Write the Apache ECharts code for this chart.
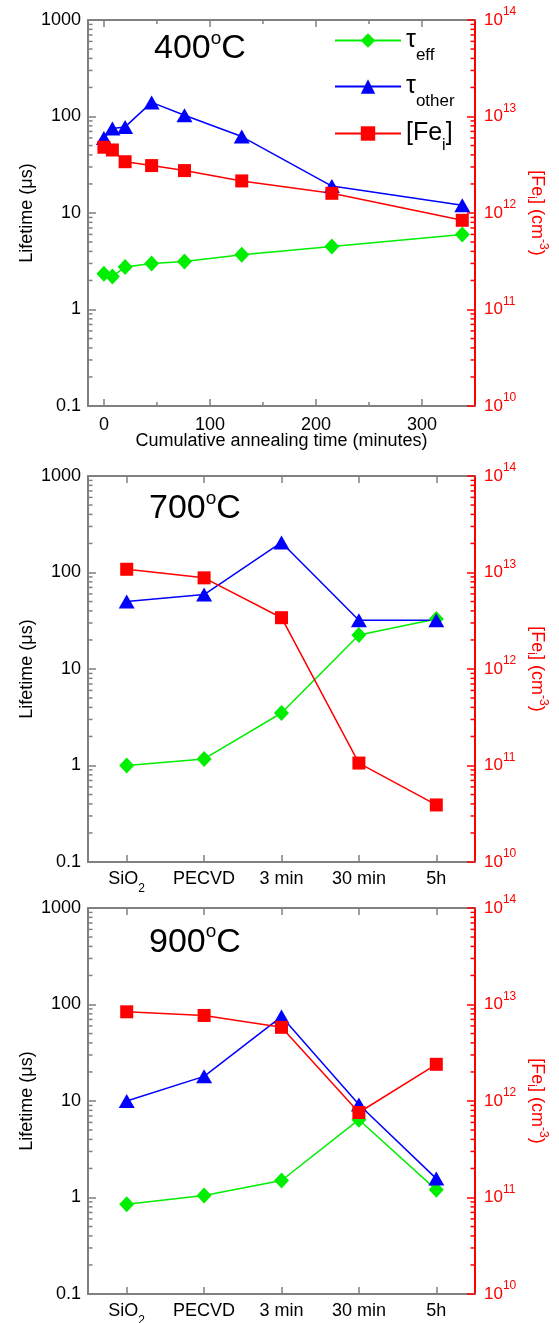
<!DOCTYPE html>
<html>
<head>
<meta charset="utf-8">
<script src="https://cdn.jsdelivr.net/npm/echarts@6/dist/echarts.min.js"></script>
<style>
html,body{margin:0;padding:0;background:#fff}
#chart{width:559px;height:1323px}
</style>
</head>
<body>
<div id="chart"></div>
<script>
/****
 * 400C: cumulative annealing time (minutes)
 */
var time400 = [0, 8, 20, 45, 76, 130, 215, 338];
var eff400 = [2.35, 2.2, 2.75, 3.0, 3.15, 3.7, 4.5, 6.0];
var other400 = [60, 75, 78, 140, 103, 62, 19, 12];
var fe400 = [4.8e12, 4.5e12, 3.4e12, 3.1e12, 2.75e12, 2.15e12, 1.6e12, 8.4e11];

/****
 * 700C / 900C: process steps
 */
var steps = ['SiO2', 'PECVD', '3 min', '30 min', '5h'];
var eff700 = [1.0, 1.17, 3.5, 22.5, 33];
var other700 = [50, 59, 205, 32, 32];
var fe700 = [1.08e13, 8.8e12, 3.4e12, 1.06e11, 3.9e10];
var eff900 = [0.85, 1.05, 1.5, 6.4, 1.2];
var other900 = [10, 18, 75, 9.2, 1.57];
var fe900 = [8.4e12, 7.7e12, 5.8e12, 7.6e11, 2.4e12];

var temps = ['400', '700', '900'];
var timeTicks = [0, 100, 200, 300];
var timeMinor = [50, 150, 250];
var minorMult = [2, 3, 4, 5, 6, 7, 8, 9];

var FONT = '"Liberation Sans", Arial, sans-serif';
var GRAY = '#808080';
var RED = '#ff0000';
var GREEN = '#00ee00';
var BLUE = '#0000ff';
var L = 88, W = 387, H = 386;
var tops = [20, 476, 908];
var titleTop = [9, 13, 14.5];
var titleLeft = [154, 149, 149];

var chart = echarts.init(document.getElementById('chart'));

function leftAxis(gi){
	return {
		type: 'log', logBase: 10, min: 0.1, max: 1000, gridIndex: gi, position: 'left',
		axisLine: {show: true, onZero: false, lineStyle: {color: GRAY, width: 2}},
		axisTick: {show: true, inside: true, length: 8, lineStyle: {color: GRAY, width: 1.5}},
		splitLine: {show: false},
		axisLabel: {color: '#000', fontSize: 18, fontFamily: FONT, margin: 7,
			formatter: function(v){ return String(+v.toPrecision(3)); }},
		name: 'Lifetime (\u03bcs)', nameLocation: 'middle', nameRotate: 90, nameGap: 52,
		nameMoveOverlap: false,
		nameTextStyle: {color: '#000', fontSize: 18, fontFamily: FONT}
	};
}

function rightAxis(gi){
	return {
		type: 'log', logBase: 10, min: 1e10, max: 1e14, gridIndex: gi, position: 'right',
		axisLine: {show: true, onZero: false, lineStyle: {color: RED, width: 2}},
		axisTick: {show: true, inside: true, length: 8, lineStyle: {color: RED, width: 1.5}},
		splitLine: {show: false},
		axisLabel: {fontFamily: FONT, margin: 9,
			formatter: function(v){ return '{b|10}{s|' + Math.round(Math.log(v) / Math.LN10) + '}'; },
			rich: {
				b: {color: RED, fontSize: 17, lineHeight: 28, fontFamily: FONT},
				s: {color: RED, fontSize: 12, lineHeight: 12, verticalAlign: 'top', fontFamily: FONT}
			}},
		name: '{m|[Fe}{d|i}{m|] (cm}{u|-3}{m|)}', nameLocation: 'middle', nameRotate: -90, nameGap: 50,
		nameMoveOverlap: false,
		nameTextStyle: {rich: {
			m: {color: RED, fontSize: 18, lineHeight: 24, fontFamily: FONT},
			d: {color: RED, fontSize: 12, lineHeight: 12, verticalAlign: 'bottom', fontFamily: FONT},
			u: {color: RED, fontSize: 12, lineHeight: 12, verticalAlign: 'top', fontFamily: FONT}
		}}
	};
}

function stepAxis(gi, pos){
	return {
		type: 'category', data: steps, gridIndex: gi, position: pos, boundaryGap: true,
		axisLine: {show: true, onZero: false, lineStyle: {color: GRAY, width: 2}},
		axisTick: {show: true, inside: true, alignWithLabel: true, length: 7, lineStyle: {color: GRAY, width: 1.5}},
		splitLine: {show: false},
		axisLabel: {show: pos === 'bottom', margin: 1, interval: 0,
			formatter: function(v){ return v === 'SiO2' ? '{m|SiO}{d|2}' : '{m|' + v + '}'; },
			rich: {
				m: {color: '#000', fontSize: 18, lineHeight: 32, fontFamily: FONT},
				d: {color: '#000', fontSize: 12, lineHeight: 12, verticalAlign: 'bottom', fontFamily: FONT}
			}}
	};
}

function timeAxis(pos){
	var ax = {
		type: 'value', min: -15, max: 350, gridIndex: 0, position: pos,
		axisLine: {show: true, onZero: false, lineStyle: {color: GRAY, width: 2}},
		axisTick: {show: true, inside: true, length: 7, customValues: timeTicks, lineStyle: {color: GRAY, width: 1.5}},
		splitLine: {show: false},
		axisLabel: {show: pos === 'bottom', color: '#000', fontSize: 18, fontFamily: FONT, margin: 10,
			customValues: timeTicks}
	};
	if (pos === 'bottom') {
		ax.name = 'Cumulative annealing time (minutes)';
		ax.nameLocation = 'middle';
		ax.nameGap = 26;
		ax.nameMoveOverlap = false;
		ax.nameTextStyle = {color: '#000', fontSize: 18, fontFamily: FONT};
	}
	return ax;
}

function lineSeries(name, color, symbol, size, xi, yi, data){
	return {
		name: name, type: 'line', xAxisIndex: xi, yAxisIndex: yi, data: data,
		symbol: symbol, symbolSize: size, showSymbol: true,
		lineStyle: {color: color, width: 1.5}, itemStyle: {color: color},
		emphasis: {disabled: true}, animation: false
	};
}

function pairs(xs, ys){
	var out = [];
	for (var i = 0; i < xs.length; i++) out.push([xs[i], ys[i]]);
	return out;
}

var sets = [
	[pairs(time400, eff400), pairs(time400, other400), pairs(time400, fe400)],
	[eff700, other700, fe700],
	[eff900, other900, fe900]
];

var grids = [], xAxes = [], yAxes = [], series = [], titles = [];
for (var g = 0; g < 3; g++) {
	grids.push({left: L, top: tops[g], width: W, height: H, outerBoundsMode: 'none'});
	if (g === 0) {
		xAxes.push(timeAxis('bottom'));
		xAxes.push(timeAxis('top'));
	} else {
		xAxes.push(stepAxis(g, 'bottom'));
		xAxes.push(stepAxis(g, 'top'));
	}
	yAxes.push(leftAxis(g));
	yAxes.push(rightAxis(g));
	series.push(lineSeries('eff', GREEN, 'diamond', [15, 16], 2 * g, 2 * g, sets[g][0]));
	series.push(lineSeries('other', BLUE, 'triangle', [16, 14], 2 * g, 2 * g, sets[g][1]));
	series.push(lineSeries('fe', RED, 'rect', 13, 2 * g, 2 * g + 1, sets[g][2]));
	titles.push({
		text: '{n|' + temps[g] + '}{o|o}{n|C}',
		left: titleLeft[g], top: tops[g] + titleTop[g], padding: 0,
		textStyle: {rich: {
			n: {color: '#000', fontSize: 34, lineHeight: 40, fontWeight: 'normal', fontFamily: FONT},
			o: {color: '#000', fontSize: 19, lineHeight: 19, fontWeight: 'normal', verticalAlign: 'top', fontFamily: FONT}
		}}
	});
}

var legendText = {eff: '{t|\u03c4}{d|eff}', other: '{t|\u03c4}{d|other}', fe: '{f|[Fe}{e|i}{f|]}'};
var legendRich = {
	t: {color: '#000', fontSize: 25, lineHeight: 46, fontFamily: FONT},
	d: {color: '#000', fontSize: 17, lineHeight: 16, verticalAlign: 'bottom', fontFamily: FONT},
	f: {color: '#000', fontSize: 25, lineHeight: 40, fontFamily: FONT},
	e: {color: '#000', fontSize: 16, lineHeight: 16, verticalAlign: 'bottom', fontFamily: FONT}
};
var legendNames = ['eff', 'other', 'fe'];
var legendCenters = [37, 83, 130];
var legends = [];
for (var k = 0; k < 3; k++) {
	legends.push({
		data: [legendNames[k]], left: 334, top: legendCenters[k] - 9, padding: 0,
		itemWidth: 66, itemHeight: 18, selectedMode: false,
		formatter: function(name){ return legendText[name]; },
		textStyle: {rich: legendRich}
	});
}

chart.setOption({
	backgroundColor: '#fff',
	animation: false,
	title: titles,
	legend: legends,
	grid: grids,
	xAxis: xAxes,
	yAxis: yAxes,
	series: series
});

/****
 * minor ticks for the log axes and the time axis
 */
function addMinorTicks(){
	var els = [];
	function tick(x1, y1, x2, y2, color){
		els.push({type: 'line', shape: {x1: x1, y1: y1, x2: x2, y2: y2},
			style: {stroke: color, lineWidth: 1.5}, silent: true, z: 10});
	}
	for (var g = 0; g < 3; g++) {
		for (var d = -1; d < 3; d++) {
			for (var i = 0; i < minorMult.length; i++) {
				var y = chart.convertToPixel({yAxisIndex: 2 * g}, minorMult[i] * Math.pow(10, d));
				tick(L, y, L + 4.5, y, GRAY);
			}
		}
		for (var e = 10; e < 14; e++) {
			for (var j = 0; j < minorMult.length; j++) {
				var yr = chart.convertToPixel({yAxisIndex: 2 * g + 1}, minorMult[j] * Math.pow(10, e));
				tick(L + W, yr, L + W - 4.5, yr, RED);
			}
		}
	}
	for (var m = 0; m < timeMinor.length; m++) {
		var x = chart.convertToPixel({xAxisIndex: 0}, timeMinor[m]);
		tick(x, tops[0] + H, x, tops[0] + H - 4, GRAY);
		tick(x, tops[0], x, tops[0] + 4, GRAY);
	}
	chart.setOption({graphic: els});
}
addMinorTicks();
</script>
</body>
</html>
